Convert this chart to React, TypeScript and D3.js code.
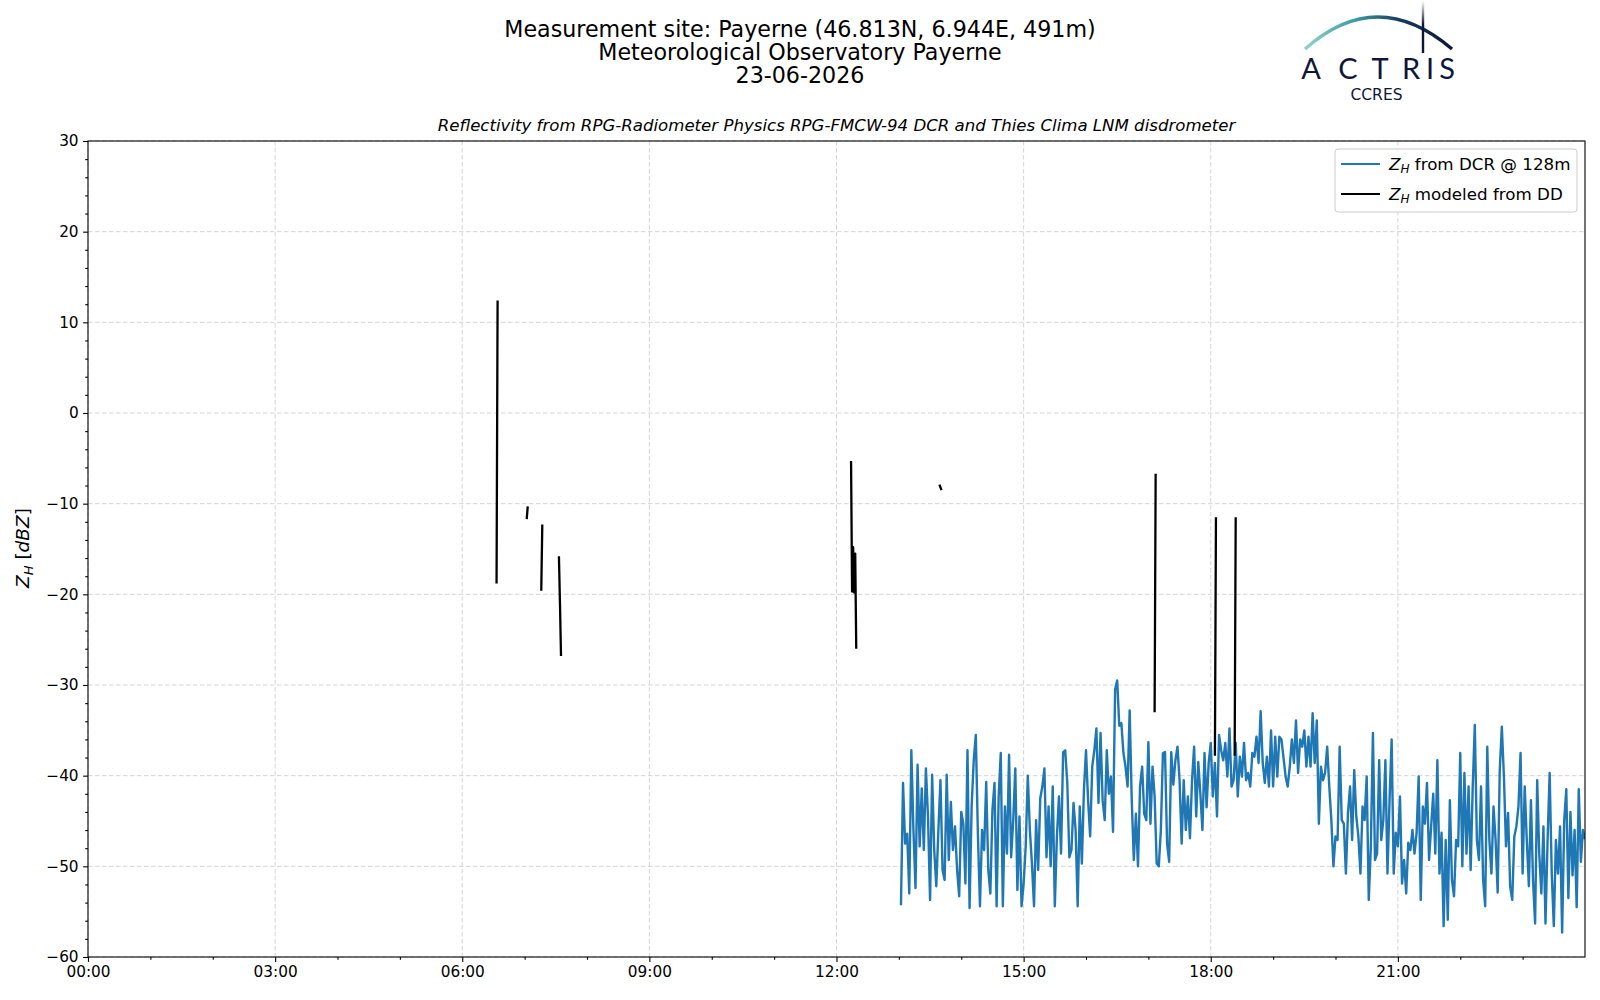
import React, { useEffect, useRef } from "react";
import * as d3 from "d3";

const titleLines = [
  "Measurement site: Payerne (46.813N, 6.944E, 491m)",
  "Meteorological Observatory Payerne",
  "23-06-2026",
];
const subtitle =
  "Reflectivity from RPG-Radiometer Physics RPG-FMCW-94 DCR and Thies Clima LNM disdrometer";

const xMajorHours = [0, 3, 6, 9, 12, 15, 18, 21];
const yMajor = [-60, -50, -40, -30, -20, -10, 0, 10, 20, 30];

// Z_H from the DCR at 128 m, one value every 2 minutes starting 13:02
const dcrStartMinute = 782;
const dcrStepMinutes = 2;
const dcrZh = [
  -54.3, -40.8, -47.5, -46.4, -53.0, -37.2, -46.0, -52.4, -38.8, -47.8,
  -41.4, -48.2, -39.2, -44.5, -53.7, -39.9, -48.2, -52.2, -46.0, -40.5,
  -50.4, -51.5, -39.9, -49.3, -42.9, -48.2, -45.6, -50.4, -53.3, -44.0,
  -45.3, -51.9, -37.2, -54.6, -43.4, -38.3, -35.5, -46.4, -54.4, -46.0,
  -48.2, -40.7, -50.4, -53.0, -43.8, -40.8, -54.4, -42.3, -37.5, -54.4,
  -43.4, -48.6, -37.7, -49.0, -44.9, -39.2, -52.6, -44.5, -54.4, -51.9,
  -47.8, -40.0, -46.0, -49.7, -54.4, -44.9, -50.4, -42.5, -41.2, -39.2,
  -49.0, -43.4, -50.0, -41.2, -54.4, -46.7, -42.3, -48.6, -37.4, -37.2,
  -40.8, -49.0, -48.2, -43.0, -46.0, -54.4, -43.4, -49.7, -41.6, -37.2,
  -42.7, -46.7, -39.0, -37.2, -34.8, -43.0, -35.3, -42.7, -44.9, -37.2,
  -42.0, -40.1, -46.2, -30.5, -29.5, -34.5, -34.2, -37.5, -39.0, -41.2,
  -32.8, -42.7, -49.3, -44.2, -50.0, -41.2, -39.0, -44.2, -44.9, -36.3,
  -45.3, -39.0, -42.3, -49.7, -50.0, -46.0, -37.5, -37.4, -47.5, -49.5,
  -37.4, -41.0, -38.3, -36.8, -40.5, -47.5, -40.5, -46.0, -42.3, -46.9,
  -40.5, -36.8, -44.5, -38.5, -42.0, -46.0, -37.5, -43.5, -38.6, -36.4,
  -42.3, -38.6, -44.5, -35.5, -37.2, -38.3, -36.4, -40.1, -34.8, -41.2,
  -40.5, -36.4, -42.3, -37.9, -40.1, -36.4, -40.5, -39.7, -41.2, -37.5,
  -37.9, -35.7, -38.6, -32.9, -38.6, -40.8, -37.9, -41.2, -35.0, -41.2,
  -35.7, -40.1, -35.7, -36.0, -38.0, -40.1, -41.2, -39.0, -36.0, -38.6,
  -33.9, -39.7, -36.0, -36.8, -35.0, -39.0, -35.7, -39.0, -33.1, -38.6,
  -33.9, -45.3, -39.0, -40.5, -39.7, -36.8, -41.2, -44.9, -50.0, -46.7,
  -47.1, -36.8, -44.9, -45.3, -50.8, -44.1, -41.2, -47.1, -39.4, -44.5,
  -46.7, -50.8, -43.4, -44.9, -40.1, -53.7, -47.8, -35.3, -49.3, -48.6,
  -38.3, -47.1, -44.9, -38.3, -50.8, -42.7, -36.0, -50.8, -46.3, -47.8,
  -42.3, -51.9, -49.3, -53.0, -47.4, -48.2, -46.0, -48.6, -46.3, -40.1,
  -53.7, -43.4, -45.3, -40.8, -49.3, -45.6, -42.0, -48.6, -38.3, -50.8,
  -46.3, -56.6, -47.1, -55.9, -42.7, -51.5, -53.3, -47.1, -47.8, -37.5,
  -50.0, -39.7, -48.6, -41.2, -50.4, -41.2, -34.4, -47.1, -49.3, -41.2,
  -51.5, -54.4, -36.8, -47.1, -50.8, -43.4, -47.1, -52.9, -39.4, -34.6,
  -40.1, -47.8, -44.1, -52.2, -53.7, -46.7, -45.6, -43.4, -37.5, -50.8,
  -41.2, -47.1, -52.2, -42.7, -51.5, -56.3, -40.5, -48.6, -53.0, -45.6,
  -56.3, -47.1, -39.7, -50.8, -56.6, -47.1, -50.8, -45.6, -57.3, -45.0,
  -41.5, -53.5, -44.0, -51.0, -46.0, -54.5, -41.5, -49.5, -46.0, -47.0,
];

// Z_H modeled from the disdrometer (minutes since midnight, NaN = gap)
const ddMinute = [
  393, 394, 395,
  422, 423, 424,
  436, 437, 438,
  453, 454, 455, 456,
  734, 735, 736, 737, 738, 739, 740,
  819, 821, 822,
  1026, 1027, 1028,
  1084, 1085, 1086,
  1103, 1104,
];
const ddZh = [
  -18.8, 12.4, NaN,
  -11.7, -10.3, NaN,
  -19.6, -12.3, NaN,
  -15.8, -21.0, -26.8, NaN,
  -5.3, -19.7, -14.8, -19.8, -15.5, -26.0, NaN,
  -7.9, -8.5, NaN,
  -33.0, -6.7, NaN,
  -37.8, -11.5, NaN,
  -37.8, -11.5,
];

const FONT = "DejaVu Sans, sans-serif";

const App = () => {
  const svgRef = useRef<SVGSVGElement>(null);

  useEffect(() => {
    document.body.style.margin = "0";
    const svg = d3.select(svgRef.current);
    svg.selectAll("*").remove();

    const m = { left: 88, right: 1585, top: 141, bottom: 957 };

    const x = d3.scaleLinear().domain([0, 1440]).range([m.left, m.right]);
    const y = d3.scaleLinear().domain([-60, 30]).range([m.bottom, m.top]);

    // titles
    svg.append("g")
      .selectAll("text")
      .data(titleLines)
      .join("text")
      .attr("x", 800)
      .attr("y", (d, i) => 36.5 + i * 23)
      .attr("text-anchor", "middle")
      .attr("font-family", FONT)
      .attr("font-size", 22.2)
      .text((d) => d);

    svg.append("text")
      .attr("x", (m.left + m.right) / 2)
      .attr("y", 131)
      .attr("text-anchor", "middle")
      .attr("font-family", FONT)
      .attr("font-size", 16.6)
      .attr("font-style", "italic")
      .text(subtitle);

    // logo
    const defs = svg.append("defs");
    const arcGrad = defs.append("linearGradient")
      .attr("id", "arcGrad")
      .attr("gradientUnits", "userSpaceOnUse")
      .attr("x1", 1305).attr("x2", 1452).attr("y1", 0).attr("y2", 0);
    arcGrad.append("stop").attr("offset", "0").attr("stop-color", "#8fd3cb");
    arcGrad.append("stop").attr("offset", "0.35").attr("stop-color", "#3a9aa3");
    arcGrad.append("stop").attr("offset", "0.65").attr("stop-color", "#173a5e");
    arcGrad.append("stop").attr("offset", "1").attr("stop-color", "#0e1636");
    const mastGrad = defs.append("linearGradient")
      .attr("id", "mastGrad")
      .attr("x1", 0).attr("x2", 0).attr("y1", 0).attr("y2", 1);
    mastGrad.append("stop").attr("offset", "0").attr("stop-color", "#0e1636").attr("stop-opacity", 0);
    mastGrad.append("stop").attr("offset", "0.45").attr("stop-color", "#0e1636").attr("stop-opacity", 1);
    mastGrad.append("stop").attr("offset", "1").attr("stop-color", "#0e1636").attr("stop-opacity", 1);

    const logo = svg.append("g");
    logo.append("path")
      .attr("d", "M1305,49 Q1377,-15 1452,49")
      .attr("fill", "none")
      .attr("stroke", "url(#arcGrad)")
      .attr("stroke-width", 3.4);
    logo.append("rect")
      .attr("x", 1421.8).attr("y", 1).attr("width", 2.4).attr("height", 52)
      .attr("fill", "url(#mastGrad)");
    const letters = ["A", "C", "T", "R", "I", "S"];
    const letterX = [1311, 1348, 1380, 1411, 1430, 1447];
    logo.selectAll("text.l")
      .data(letters)
      .join("text")
      .attr("class", "l")
      .attr("x", (d, i) => letterX[i])
      .attr("y", 78.5)
      .attr("text-anchor", "middle")
      .attr("font-family", "Lato, DejaVu Sans, sans-serif")
      .attr("font-size", 29)
      .attr("fill", "#10163a")
      .text((d) => d);
    logo.append("text")
      .attr("x", 1376.5)
      .attr("y", 99.5)
      .attr("text-anchor", "middle")
      .attr("font-family", FONT)
      .attr("font-size", 15.5)
      .attr("fill", "#10163a")
      .text("CCRES");

    // grid
    const grid = svg.append("g")
      .attr("stroke", "#d0d0d0")
      .attr("stroke-width", 0.9)
      .attr("stroke-dasharray", "4.5,2.5");
    grid.selectAll("line.gx")
      .data(xMajorHours)
      .join("line")
      .attr("class", "gx")
      .attr("x1", (d) => x(d * 60)).attr("x2", (d) => x(d * 60))
      .attr("y1", m.top).attr("y2", m.bottom);
    grid.selectAll("line.gy")
      .data(yMajor)
      .join("line")
      .attr("class", "gy")
      .attr("x1", m.left).attr("x2", m.right)
      .attr("y1", (d) => y(d)).attr("y2", (d) => y(d));

    // axes
    const fmtTime = (v: number) => {
      const h = Math.floor(v / 60);
      return `${String(h).padStart(2, "0")}:00`;
    };
    const xMinor = d3.range(0, 25).filter((h) => h % 3 !== 0).map((h) => h * 60);
    const yMinor = d3.range(-60, 31, 2).filter((v) => v % 10 !== 0);

    const styleAxis = (g: any) => {
      g.select(".domain").remove();
      g.selectAll("text").attr("font-family", FONT).attr("font-size", 15.3).attr("fill", "#000");
      g.selectAll("line").attr("stroke", "#000").attr("stroke-width", 1.1);
    };

    svg.append("g")
      .attr("transform", `translate(0,${m.bottom})`)
      .call(d3.axisBottom(x).tickValues(xMajorHours.map((h) => h * 60)).tickFormat(fmtTime as any).tickSize(4.9).tickPadding(4.5))
      .call(styleAxis);
    svg.append("g")
      .attr("transform", `translate(0,${m.bottom})`)
      .call(d3.axisBottom(x).tickValues(xMinor).tickFormat(() => "").tickSize(2.8))
      .call(styleAxis);
    svg.append("g")
      .attr("transform", `translate(${m.left},0)`)
      .call(d3.axisLeft(y).tickValues(yMajor).tickFormat(d3.format("d")).tickSize(4.9).tickPadding(4.5))
      .call(styleAxis);
    svg.append("g")
      .attr("transform", `translate(${m.left},0)`)
      .call(d3.axisLeft(y).tickValues(yMinor).tickFormat(() => "").tickSize(2.8))
      .call(styleAxis);

    // y label
    const yl = svg.append("text")
      .attr("transform", `translate(29,548) rotate(-90)`)
      .attr("text-anchor", "middle")
      .attr("font-family", FONT)
      .attr("font-size", 18.5);
    yl.append("tspan").attr("font-style", "italic").text("Z");
    yl.append("tspan").attr("font-style", "italic").attr("font-size", 13).attr("dy", 3.7).text("H");
    yl.append("tspan").attr("dy", -3.7).text(" [");
    yl.append("tspan").attr("font-style", "italic").text("dBZ");
    yl.append("tspan").text("]");

    // series
    const dcrPoints: [number, number][] = dcrZh.map((v, i) => [dcrStartMinute + i * dcrStepMinutes, v]);
    const ddPoints: [number, number][] = ddZh.map((v, i) => [ddMinute[i], v]);
    const line = d3.line<[number, number]>()
      .defined((d) => !isNaN(d[1]))
      .x((d) => x(d[0]))
      .y((d) => y(d[1]));

    const plotClip = defs.append("clipPath").attr("id", "plotClip");
    plotClip.append("rect")
      .attr("x", m.left).attr("y", m.top)
      .attr("width", m.right - m.left).attr("height", m.bottom - m.top);

    const plot = svg.append("g").attr("clip-path", "url(#plotClip)");
    plot.append("path")
      .datum(dcrPoints)
      .attr("d", line)
      .attr("fill", "none")
      .attr("stroke", "#1f77b4")
      .attr("stroke-width", 2.4)
      .attr("stroke-linejoin", "round");
    plot.append("path")
      .datum(ddPoints)
      .attr("d", line)
      .attr("fill", "none")
      .attr("stroke", "#000")
      .attr("stroke-width", 2.3)
      .attr("stroke-linejoin", "round");

    // spines
    svg.append("rect")
      .attr("x", m.left).attr("y", m.top)
      .attr("width", m.right - m.left).attr("height", m.bottom - m.top)
      .attr("fill", "none")
      .attr("stroke", "#000")
      .attr("stroke-width", 1.1);

    // legend
    const lg = svg.append("g");
    lg.append("rect")
      .attr("x", 1335).attr("y", 149).attr("width", 242).attr("height", 63)
      .attr("rx", 3)
      .attr("fill", "#fff").attr("fill-opacity", 0.8)
      .attr("stroke", "#cccccc").attr("stroke-width", 1);
    const entries = [
      { color: "#1f77b4", text: " from DCR @ 128m" },
      { color: "#000", text: " modeled from DD" },
    ];
    entries.forEach((e, i) => {
      const cy = 164 + i * 30;
      lg.append("line")
        .attr("x1", 1341).attr("x2", 1380).attr("y1", cy).attr("y2", cy)
        .attr("stroke", e.color).attr("stroke-width", 2.1);
      const t = lg.append("text")
        .attr("x", 1389).attr("y", cy + 6)
        .attr("font-family", FONT)
        .attr("font-size", 16.7);
      t.append("tspan").attr("font-style", "italic").text("Z");
      t.append("tspan").attr("font-style", "italic").attr("font-size", 12).attr("dy", 3).text("H");
      t.append("tspan").attr("dy", -3).text(e.text);
    });
  }, []);

  return <svg ref={svgRef} width={1600} height={1000} style={{ display: "block", background: "#fff" }} />;
};

export default App;
